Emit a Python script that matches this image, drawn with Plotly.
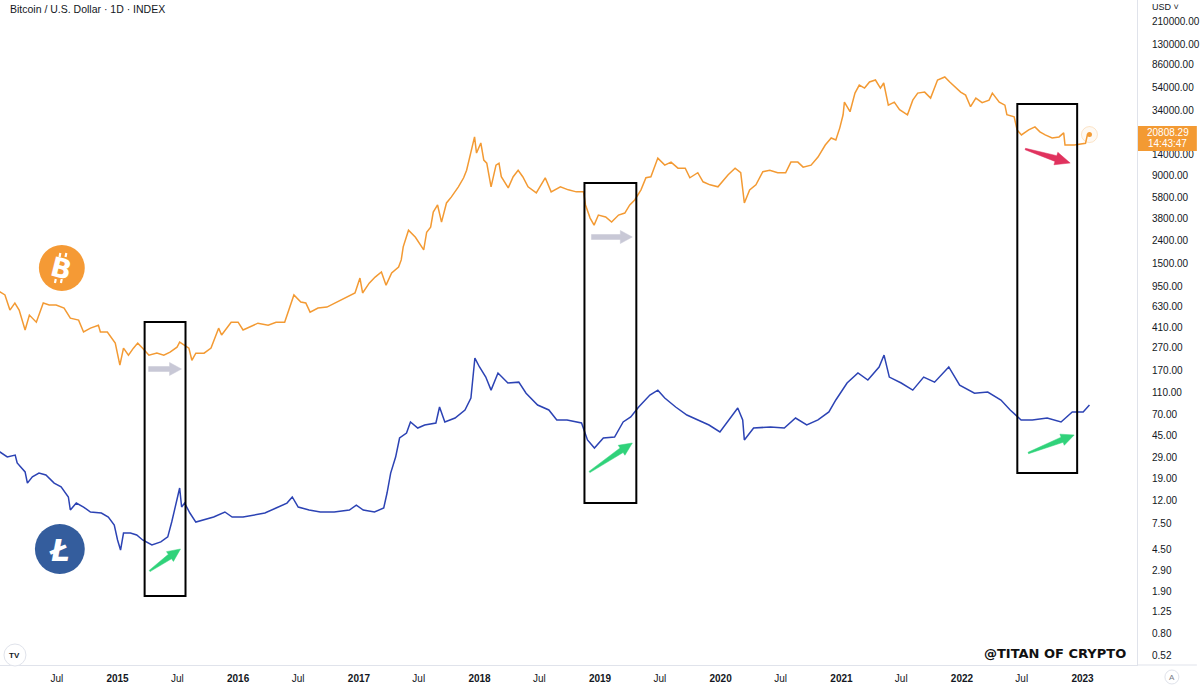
import plotly.graph_objects as go

# ---------------- data ----------------
btc_dates = ["2014-01-01","2014-01-10","2014-01-25","2014-02-09","2014-02-24","2014-03-09","2014-03-27","2014-04-09","2014-04-30","2014-05-21","2014-06-08","2014-06-29","2014-07-23","2014-08-11","2014-09-05","2014-09-20","2014-10-11","2014-11-04","2014-11-10","2014-12-01","2014-12-25",
"2015-01-08","2015-01-19","2015-02-03","2015-02-18","2015-03-03","2015-03-18","2015-04-06","2015-04-30","2015-05-21","2015-06-09","2015-06-30","2015-07-08","2015-07-23","2015-08-05","2015-08-14","2015-08-26","2015-09-20","2015-10-11","2015-11-03","2015-11-12","2015-12-11",
"2016-01-01","2016-01-16","2016-02-04","2016-03-01","2016-04-01","2016-04-25","2016-05-21","2016-06-06","2016-06-18","2016-07-09","2016-07-24","2016-08-06","2016-08-30","2016-09-26","2016-10-20","2016-11-20","2016-12-20",
"2017-01-04","2017-01-12","2017-02-01","2017-02-19","2017-03-10","2017-03-24","2017-04-10","2017-05-01","2017-05-09","2017-05-15","2017-05-31","2017-06-21","2017-07-16","2017-07-25","2017-08-06","2017-08-14","2017-08-27","2017-09-08","2017-09-23","2017-10-08","2017-10-29","2017-11-14","2017-11-23","2017-12-07","2017-12-17","2017-12-23",
"2018-01-05","2018-01-14","2018-01-23","2018-02-05","2018-02-20","2018-03-01","2018-03-08","2018-03-29","2018-04-13","2018-04-28","2018-05-12","2018-05-28","2018-06-22","2018-07-19","2018-08-06","2018-09-03","2018-09-27","2018-10-21","2018-11-12","2018-11-18","2018-12-02","2018-12-14","2018-12-27",
"2019-01-18","2019-02-05","2019-02-26","2019-03-17","2019-04-01","2019-04-16","2019-05-05","2019-05-20","2019-06-04","2019-06-25","2019-07-16","2019-08-04","2019-08-25","2019-09-16","2019-09-30","2019-10-24","2019-11-09","2019-11-30","2019-12-24",
"2020-01-03","2020-01-24","2020-02-14","2020-03-02","2020-03-13","2020-03-29","2020-04-17","2020-05-08","2020-05-29","2020-06-22","2020-07-16","2020-08-01","2020-08-22","2020-09-07","2020-10-01","2020-10-22","2020-11-13","2020-12-01","2020-12-15","2020-12-27",
"2021-01-06","2021-01-10","2021-01-27","2021-02-11","2021-02-24","2021-03-12","2021-03-27","2021-04-14","2021-04-29","2021-05-09","2021-05-23","2021-06-10","2021-06-26","2021-07-20","2021-08-05","2021-08-20","2021-09-10","2021-09-28","2021-10-19","2021-11-10","2021-11-25","2021-12-10","2021-12-28",
"2022-01-12","2022-01-27","2022-02-12","2022-03-03","2022-03-24","2022-04-03","2022-04-24","2022-05-11","2022-05-17","2022-06-08","2022-06-17","2022-06-30","2022-07-22","2022-08-10","2022-08-25","2022-09-10","2022-10-01","2022-10-22","2022-11-05","2022-11-09","2022-12-07","2022-12-25","2023-01-10","2023-01-16","2023-01-22"]

btc_close = [800,845,795,584,674,584,389,527,456,674,647,647,609,495,476,374,404,429,374,374,298,
190,269,233,269,298,269,233,243,233,248,274,304,286,269,210,243,243,269,404,351,456,
456,389,412,447,429,456,456,620,795,689,674,560,609,620,674,747,827,
1120,827,1011,1144,1267,970,1242,1404,1621,2117,2970,2572,1990,2850,3157,4297,4962,3502,5170,5849,7178,8633,10070,15178,19824,14275,
17530,12365,11626,7178,11165,11626,8817,7033,8817,10070,8817,7178,6344,8633,6480,7178,6751,6480,6480,4962,3798,3291,4040,
3880,3502,4040,4210,4962,5500,6751,8633,8817,12883,11165,11875,10493,10493,8633,9564,7954,7479,7178,
7794,9186,10493,9564,5170,6751,7479,9768,10070,9564,9564,11875,11875,10714,11165,13152,16819,19421,18643,23846,
31133,40233,33110,48384,57019,53628,60658,63175,53628,59432,37829,40233,34502,31133,41914,48384,49381,43672,63175,67184,60658,54739,49381,
46455,36691,43672,39830,41914,48384,40233,37829,31133,29885,22886,20650,22886,24336,21965,20650,19421,19824,21514,16819,16819,17100,17400,20800,20808.29]

ltc_dates = ["2014-01-01","2014-01-10","2014-02-01","2014-02-25","2014-03-03","2014-03-27","2014-04-03","2014-04-18","2014-05-08","2014-05-29","2014-06-23","2014-07-14","2014-08-05","2014-08-11","2014-08-29","2014-09-20","2014-10-11","2014-11-13","2014-12-04","2014-12-22",
"2015-01-01","2015-01-10","2015-01-19","2015-02-09","2015-02-28","2015-03-18","2015-04-15","2015-05-12","2015-06-02","2015-06-14","2015-07-08","2015-07-14","2015-07-23","2015-08-08","2015-08-26","2015-09-16","2015-10-19","2015-11-22","2015-12-14",
"2016-01-16","2016-02-18","2016-03-22","2016-04-25","2016-05-28","2016-06-13","2016-07-01","2016-08-03","2016-09-06","2016-10-18","2016-12-03","2016-12-24",
"2017-01-14","2017-02-17","2017-03-17","2017-03-27","2017-04-07","2017-04-22","2017-05-04","2017-05-25","2017-06-06","2017-06-28","2017-07-19","2017-08-22","2017-09-02","2017-09-18","2017-10-19","2017-11-18","2017-12-06","2017-12-18",
"2018-01-01","2018-01-20","2018-02-05","2018-02-26","2018-03-28","2018-04-30","2018-05-22","2018-06-26","2018-07-30","2018-08-23","2018-09-23","2018-11-06","2018-11-24","2018-12-15",
"2019-01-11","2019-02-14","2019-03-12","2019-04-04","2019-04-28","2019-06-01","2019-06-25","2019-07-16","2019-08-18","2019-09-21","2019-10-24","2019-11-27","2019-12-30",
"2020-02-01","2020-02-22","2020-03-08","2020-03-13","2020-04-10","2020-05-31","2020-07-12","2020-08-15","2020-09-18","2020-10-22","2020-11-24","2020-12-15",
"2021-01-18","2021-02-20","2021-03-22","2021-04-25","2021-05-10","2021-05-26","2021-07-01","2021-08-05","2021-09-07","2021-10-10","2021-11-22","2021-12-25",
"2022-02-08","2022-03-20","2022-04-29","2022-05-27","2022-06-29","2022-08-02","2022-09-16","2022-10-28","2022-12-01","2023-01-03","2023-01-22"]

ltc_close = [22.0,21.1,18.3,19.3,15.3,11.8,8.5,10.2,11.4,10.8,8.5,7.6,5.66,3.87,4.74,4.22,3.65,3.54,3.15,2.49,
1.61,1.20,1.97,1.97,1.86,1.61,1.39,1.52,1.76,2.72,7.36,4.22,4.74,3.54,2.72,2.88,3.15,3.65,3.15,
3.15,3.34,3.54,4.10,4.74,5.66,4.22,3.87,3.65,3.65,3.87,4.47,
3.87,3.65,4.10,6.36,11.4,18.2,31.8,36.8,50.8,42.6,46.5,49.3,78.8,50.8,57.1,72.2,102.5,330,
254,189,129,213,159,163,118,83.5,72.2,53.9,53.9,49.3,30.0,23.7,
31.8,32.7,50.8,58.8,78.8,111.9,129,102.5,78.8,62.3,53.9,46.5,37.9,
58.8,76.5,53.9,30.0,42.6,43.9,42.6,57.1,46.5,53.9,68.1,96.7,
159,213,173,254,360,189,159,129,189,163,254,149,
118,122,96.7,72.2,53.9,53.9,57.1,50.8,68.1,68.1,83.5]

y_ticks = [210000,130000,86000,54000,34000,14000,9000,5800,3800,2400,1500,950,630,410,270,170,110,70,45,29,19,12,7.5,4.5,2.9,1.9,1.25,0.8,0.52]
x_tick_dates = ["2014-07-01","2015-01-01","2015-07-01","2016-01-01","2016-07-01","2017-01-01","2017-07-01","2018-01-01","2018-07-01","2019-01-01","2019-07-01","2020-01-01","2020-07-01","2021-01-01","2021-07-01","2022-01-01","2022-07-01","2023-01-01"]
x_tick_labels = ["Jul","2015","Jul","2016","Jul","2017","Jul","2018","Jul","2019","Jul","2020","Jul","2021","Jul","2022","Jul","2023"]

last_price_text = "20808.29"
last_time_text = "14:43:47"

# ---------------- layout helpers ----------------
W, H = 1200, 686
ML, MR, MT, MB = 0, 60, 0, 21
PW, PH = W - ML - MR, H - MT - MB

def px(x):
    return (x - ML) / PW

def py(y):
    return 1 - (y - MT) / PH

def arrow_path(x0, y0, x1, y1, tail_w, shaft_w, head_w, head_len):
    dx, dy = x1 - x0, y1 - y0
    L = (dx * dx + dy * dy) ** 0.5
    ux, uy = dx / L, dy / L
    nx, ny = -uy, ux
    bx, by = x1 - ux * head_len, y1 - uy * head_len
    pts = [
        (x0 + nx * tail_w / 2, y0 + ny * tail_w / 2),
        (bx + nx * shaft_w / 2, by + ny * shaft_w / 2),
        (bx + nx * head_w / 2, by + ny * head_w / 2),
        (x1, y1),
        (bx - nx * head_w / 2, by - ny * head_w / 2),
        (bx - nx * shaft_w / 2, by - ny * shaft_w / 2),
        (x0 - nx * tail_w / 2, y0 - ny * tail_w / 2),
    ]
    return "M " + " L ".join(f"{px(a):.5f},{py(b):.5f}" for a, b in pts) + " Z"

BTC_COLOR = "#F39A33"
LTC_COLOR = "#2C43B4"
FONT = "Liberation Sans, Arial, sans-serif"
TXT = "#131722"

fig = go.Figure()
fig.add_trace(go.Scatter(x=btc_dates, y=btc_close, mode="lines",
                         line=dict(color=BTC_COLOR, width=1.5), name="BTCUSD", yaxis="y"))
fig.add_trace(go.Scatter(x=ltc_dates, y=ltc_close, mode="lines",
                         line=dict(color=LTC_COLOR, width=1.5), name="LTCUSD", yaxis="y2"))
# last price marker with halo
fig.add_trace(go.Scatter(x=[btc_dates[-1]], y=[btc_close[-1]], mode="markers",
                         marker=dict(size=16, color="rgba(243,154,51,0.06)",
                                     line=dict(color="rgba(243,154,51,0.25)", width=1)),
                         yaxis="y", hoverinfo="skip"))
fig.add_trace(go.Scatter(x=[btc_dates[-1]], y=[btc_close[-1]], mode="markers",
                         marker=dict(size=5, color=BTC_COLOR), yaxis="y", hoverinfo="skip"))

shapes = []
# rectangles
for (x0, y0, x1, y1) in [(145, 322, 186, 596), (586, 183, 638, 503), (1020, 104, 1080, 473)]:
    shapes.append(dict(type="rect", xref="paper", yref="paper", x0=px(x0), x1=px(x1),
                       y0=py(y1), y1=py(y0), line=dict(color="#000000", width=2),
                       fillcolor="rgba(0,0,0,0)"))
# arrows
GRAY, GREEN, RED = "#C8C8D6", "#30D27A", "#E0325E"
arrows = [
    (149, 369, 182, 369, 5, 5, 13, 12, GRAY),
    (593, 237, 634, 237, 5, 5, 13, 12, GRAY),
    (150, 571, 181, 549, 1.5, 5.5, 12, 13, GREEN),
    (591, 472, 634, 443, 1.5, 5.5, 12, 13, GREEN),
    (1031, 453, 1077, 435, 1.5, 5.5, 12, 13, GREEN),
    (1028, 149, 1073, 163, 1.5, 6, 13, 15, RED),
]
for (x0, y0, x1, y1, tw, sw, hw, hl, c) in arrows:
    shapes.append(dict(type="path", xref="paper", yref="paper",
                       path=arrow_path(x0, y0, x1, y1, tw, sw, hw, hl),
                       fillcolor=c, line=dict(color=c, width=0.5)))
# logos
shapes.append(dict(type="circle", xref="paper", yref="paper", x0=px(39), x1=px(85),
                   y0=py(291), y1=py(245), fillcolor="#F59A35", line=dict(width=0)))
shapes.append(dict(type="circle", xref="paper", yref="paper", x0=px(35), x1=px(85),
                   y0=py(574), y1=py(524), fillcolor="#345D9D", line=dict(width=0)))
# bitcoin sign strokes
for sx in (59.5, 65.5):
    shapes.append(dict(type="line", xref="paper", yref="paper", x0=px(sx + 1), y0=py(253),
                       x1=px(sx + 0.2), y1=py(257), line=dict(color="white", width=2.2)))
    shapes.append(dict(type="line", xref="paper", yref="paper", x0=px(sx - 3.6), y0=py(279),
                       x1=px(sx - 4.4), y1=py(283), line=dict(color="white", width=2.2)))
# price label box
shapes.append(dict(type="rect", xref="paper", yref="paper", x0=px(1141), x1=px(1200),
                   y0=py(151), y1=py(126), fillcolor="#F39A33", line=dict(width=0)))
# bottom separator across the price-axis area
shapes.append(dict(type="line", xref="paper", yref="paper", x0=px(1140), x1=px(1200),
                   y0=py(665), y1=py(665), line=dict(color="#E0E3EB", width=1)))
# TradingView badge and "A" badge
shapes.append(dict(type="circle", xref="paper", yref="paper", x0=px(4), x1=px(26),
                   y0=py(666), y1=py(644), fillcolor="white", line=dict(color="#E0E3EB", width=1)))
shapes.append(dict(type="circle", xref="paper", yref="paper", x0=px(1168), x1=px(1182),
                   y0=py(684), y1=py(670), fillcolor="white", line=dict(color="#E0E3EB", width=1)))

annotations = [
    dict(text="Bitcoin / U.S. Dollar · 1D · INDEX", x=px(8), y=py(9), xref="paper", yref="paper",
         xanchor="left", yanchor="middle", showarrow=False, font=dict(family=FONT, size=10.5, color=TXT)),
    dict(text="USD ˅", x=px(1153), y=py(7), xref="paper", yref="paper", xanchor="left",
         yanchor="middle", showarrow=False, font=dict(family=FONT, size=9, color=TXT)),
    dict(text=last_price_text, x=px(1171), y=py(133), xref="paper", yref="paper", xanchor="center",
         yanchor="middle", showarrow=False, font=dict(family=FONT, size=10, color="white")),
    dict(text=last_time_text, x=px(1171), y=py(144), xref="paper", yref="paper", xanchor="center",
         yanchor="middle", showarrow=False, font=dict(family=FONT, size=10, color="white")),
    dict(text="<b>B</b>", x=px(62), y=py(268), xref="paper", yref="paper", xanchor="center",
         yanchor="middle", showarrow=False, textangle=14,
         font=dict(family="DejaVu Sans, sans-serif", size=27, color="white")),
    dict(text="<b><i>Ł</i></b>", x=px(60), y=py(550), xref="paper", yref="paper", xanchor="center",
         yanchor="middle", showarrow=False,
         font=dict(family="DejaVu Sans, sans-serif", size=30, color="white")),
    dict(text="<b>@TITAN OF CRYPTO</b>", x=px(1058), y=py(653), xref="paper", yref="paper",
         xanchor="center", yanchor="middle", showarrow=False,
         font=dict(family="DejaVu Sans, sans-serif", size=13, color="#111111")),
    dict(text="<b>TV</b>", x=px(15), y=py(655), xref="paper", yref="paper", xanchor="center",
         yanchor="middle", showarrow=False, font=dict(family=FONT, size=8, color=TXT)),
    dict(text="A", x=px(1175), y=py(677), xref="paper", yref="paper", xanchor="center",
         yanchor="middle", showarrow=False, font=dict(family=FONT, size=8, color="#787B86")),
]

fig.update_layout(
    width=W, height=H, margin=dict(l=ML, r=MR, t=MT, b=MB),
    paper_bgcolor="white", plot_bgcolor="white", showlegend=False,
    shapes=shapes, annotations=annotations,
    xaxis=dict(type="date", range=["2014-01-10", "2023-06-15"], showgrid=False, zeroline=False,
               showline=True, linecolor="#E0E3EB", linewidth=1, ticks="",
               tickvals=x_tick_dates,
               ticktext=[("<b>%s</b>" % t if t != "Jul" else t) for t in x_tick_labels],
               tickfont=dict(family=FONT, size=10, color=TXT), ticklabelstandoff=4),
    yaxis=dict(type="log", side="right", range=[-0.372, 5.508], showgrid=False, zeroline=False,
               showline=True, linecolor="#E0E3EB", linewidth=1, ticks="",
               tickvals=y_ticks, ticktext=["%.2f" % v for v in y_ticks],
               tickfont=dict(family=FONT, size=10, color=TXT), ticklabelstandoff=12),
    yaxis2=dict(type="log", overlaying="y", side="left", range=[-1.382, 7.068], visible=False),
)

fig.write_html("out.html")
